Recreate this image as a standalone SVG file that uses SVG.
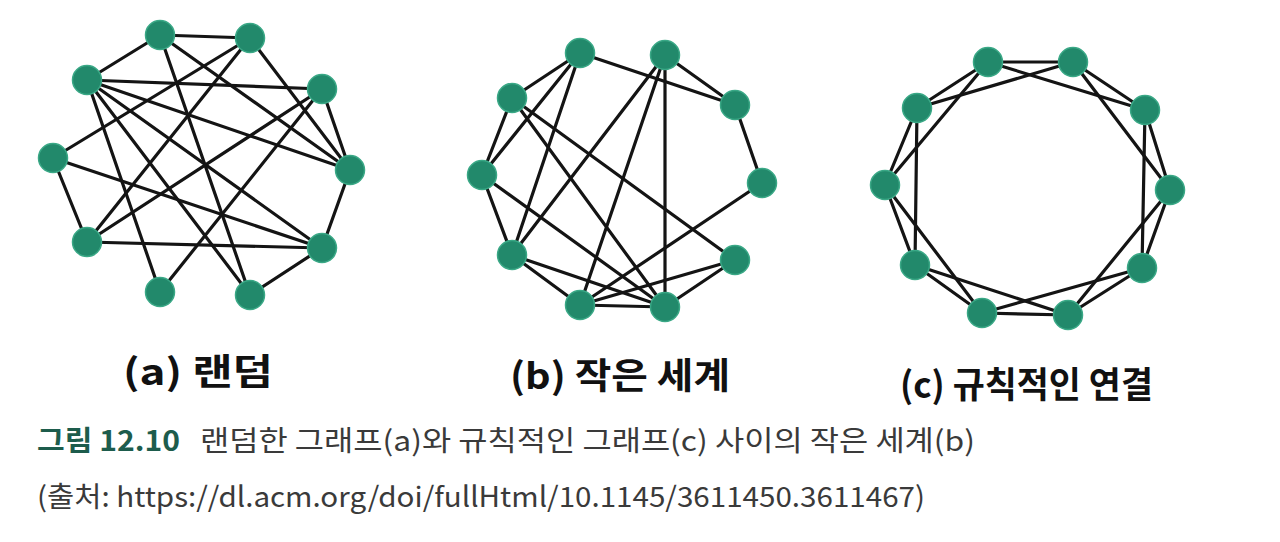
<svg xmlns="http://www.w3.org/2000/svg" width="1280" height="542" viewBox="0 0 1280 542">
<style>
.e{stroke:#141414;stroke-width:3.2;stroke-linecap:round;fill:none}
.n{fill:#22896b;stroke:#3aa886;stroke-width:1.5}
.lab{font-family:"Noto Sans CJK KR","Noto Sans",sans-serif;font-weight:700;font-size:36px;fill:#111}
.cap{font-family:"Noto Sans CJK KR","Noto Sans",sans-serif;font-size:28px;fill:#3a3a3a}
.capb{font-family:"Noto Sans CJK KR","Noto Sans",sans-serif;font-size:28px;font-weight:700;fill:#1d5c4c}
</style>
<rect width="1280" height="542" fill="#ffffff"/>
<g id="connectors">
<!-- (a) random -->
<g class="e">
<line x1="160" y1="35" x2="250" y2="38"/>
<line x1="160" y1="35" x2="87" y2="80"/>
<line x1="160" y1="35" x2="350" y2="170"/>
<line x1="160" y1="35" x2="250" y2="295"/>
<line x1="250" y1="38" x2="53" y2="158"/>
<line x1="250" y1="38" x2="350" y2="170"/>
<line x1="250" y1="38" x2="87" y2="242"/>
<line x1="87" y1="80" x2="322" y2="89"/>
<line x1="87" y1="80" x2="350" y2="170"/>
<line x1="87" y1="80" x2="322" y2="248"/>
<line x1="87" y1="80" x2="160" y2="292"/>
<line x1="87" y1="80" x2="250" y2="295"/>
<line x1="322" y1="89" x2="350" y2="170"/>
<line x1="322" y1="89" x2="87" y2="242"/>
<line x1="322" y1="89" x2="160" y2="292"/>
<line x1="53" y1="158" x2="87" y2="242"/>
<line x1="53" y1="158" x2="322" y2="248"/>
<line x1="350" y1="170" x2="322" y2="248"/>
<line x1="87" y1="242" x2="322" y2="248"/>
<line x1="322" y1="248" x2="250" y2="295"/>
</g>
<!-- (b) small world -->
<g class="e">
<line x1="580" y1="53" x2="512" y2="98"/>
<line x1="580" y1="53" x2="482" y2="175"/>
<line x1="580" y1="53" x2="512" y2="255"/>
<line x1="580" y1="53" x2="735" y2="105"/>
<line x1="665" y1="55" x2="735" y2="105"/>
<line x1="665" y1="55" x2="512" y2="255"/>
<line x1="665" y1="55" x2="580" y2="305"/>
<line x1="665" y1="55" x2="665" y2="307"/>
<line x1="735" y1="105" x2="762" y2="183"/>
<line x1="512" y1="98" x2="482" y2="175"/>
<line x1="512" y1="98" x2="665" y2="307"/>
<line x1="512" y1="98" x2="735" y2="260"/>
<line x1="482" y1="175" x2="512" y2="255"/>
<line x1="482" y1="175" x2="665" y2="307"/>
<line x1="762" y1="183" x2="580" y2="305"/>
<line x1="512" y1="255" x2="580" y2="305"/>
<line x1="512" y1="255" x2="665" y2="307"/>
<line x1="735" y1="260" x2="580" y2="305"/>
<line x1="735" y1="260" x2="665" y2="307"/>
<line x1="580" y1="305" x2="665" y2="307"/>
</g>
<!-- (c) regular -->
<g class="e">
<line x1="988" y1="62" x2="1073" y2="62"/>
<line x1="1073" y1="62" x2="1145" y2="110"/>
<line x1="1145" y1="110" x2="1170" y2="190"/>
<line x1="1170" y1="190" x2="1142" y2="268"/>
<line x1="1142" y1="268" x2="1068" y2="315"/>
<line x1="1068" y1="315" x2="982" y2="313"/>
<line x1="982" y1="313" x2="915" y2="265"/>
<line x1="915" y1="265" x2="885" y2="185"/>
<line x1="885" y1="185" x2="917" y2="108"/>
<line x1="917" y1="108" x2="988" y2="62"/>
<line x1="988" y1="62" x2="1145" y2="110"/>
<line x1="1073" y1="62" x2="1170" y2="190"/>
<line x1="1145" y1="110" x2="1142" y2="268"/>
<line x1="1170" y1="190" x2="1068" y2="315"/>
<line x1="1142" y1="268" x2="982" y2="313"/>
<line x1="1068" y1="315" x2="915" y2="265"/>
<line x1="982" y1="313" x2="885" y2="185"/>
<line x1="915" y1="265" x2="917" y2="108"/>
<line x1="885" y1="185" x2="988" y2="62"/>
<line x1="917" y1="108" x2="1073" y2="62"/>
</g>
</g>
<g id="graph-a">
<g id="a1"><circle class="n" cx="160" cy="35" r="14.5"/></g>
<g id="a2"><circle class="n" cx="250" cy="38" r="14.5"/></g>
<g id="a3"><circle class="n" cx="87" cy="80" r="14.5"/></g>
<g id="a4"><circle class="n" cx="322" cy="89" r="14.5"/></g>
<g id="a5"><circle class="n" cx="53" cy="158" r="14.5"/></g>
<g id="a6"><circle class="n" cx="350" cy="170" r="14.5"/></g>
<g id="a7"><circle class="n" cx="87" cy="242" r="14.5"/></g>
<g id="a8"><circle class="n" cx="322" cy="248" r="14.5"/></g>
<g id="a9"><circle class="n" cx="160" cy="292" r="14.5"/></g>
<g id="a10"><circle class="n" cx="250" cy="295" r="14.5"/></g>
</g>
<g id="graph-b">
<g id="b1"><circle class="n" cx="580" cy="53" r="14.5"/></g>
<g id="b2"><circle class="n" cx="665" cy="55" r="14.5"/></g>
<g id="b3"><circle class="n" cx="512" cy="98" r="14.5"/></g>
<g id="b4"><circle class="n" cx="735" cy="105" r="14.5"/></g>
<g id="b5"><circle class="n" cx="482" cy="175" r="14.5"/></g>
<g id="b6"><circle class="n" cx="762" cy="183" r="14.5"/></g>
<g id="b7"><circle class="n" cx="512" cy="255" r="14.5"/></g>
<g id="b8"><circle class="n" cx="735" cy="260" r="14.5"/></g>
<g id="b9"><circle class="n" cx="580" cy="305" r="14.5"/></g>
<g id="b10"><circle class="n" cx="665" cy="307" r="14.5"/></g>
</g>
<g id="graph-c">
<g id="c1"><circle class="n" cx="988" cy="62" r="14.5"/></g>
<g id="c2"><circle class="n" cx="1073" cy="62" r="14.5"/></g>
<g id="c3"><circle class="n" cx="917" cy="108" r="14.5"/></g>
<g id="c4"><circle class="n" cx="1145" cy="110" r="14.5"/></g>
<g id="c5"><circle class="n" cx="885" cy="185" r="14.5"/></g>
<g id="c6"><circle class="n" cx="1170" cy="190" r="14.5"/></g>
<g id="c7"><circle class="n" cx="915" cy="265" r="14.5"/></g>
<g id="c8"><circle class="n" cx="1142" cy="268" r="14.5"/></g>
<g id="c9"><circle class="n" cx="982" cy="313" r="14.5"/></g>
<g id="c10"><circle class="n" cx="1068" cy="315" r="14.5"/></g>
</g>
<g id="labels">
<text class="lab" x="123" y="385" textLength="150" lengthAdjust="spacingAndGlyphs">(a) 랜덤</text>
<text class="lab" x="510" y="389" textLength="220" lengthAdjust="spacingAndGlyphs">(b) 작은 세계</text>
<text class="lab" x="900" y="398" textLength="253" lengthAdjust="spacingAndGlyphs">(c) 규칙적인 연결</text>
</g>
<g id="caption">
<text class="capb" x="37" y="451" textLength="143" lengthAdjust="spacingAndGlyphs">그림 12.10</text>
<text class="cap" x="200" y="451" textLength="775" lengthAdjust="spacingAndGlyphs">랜덤한 그래프(a)와 규칙적인 그래프(c) 사이의 작은 세계(b)</text>
<text class="cap" x="37" y="507" textLength="888" lengthAdjust="spacingAndGlyphs">(출처: https://dl.acm.org/doi/fullHtml/10.1145/3611450.3611467)</text>
</g>
</svg>
